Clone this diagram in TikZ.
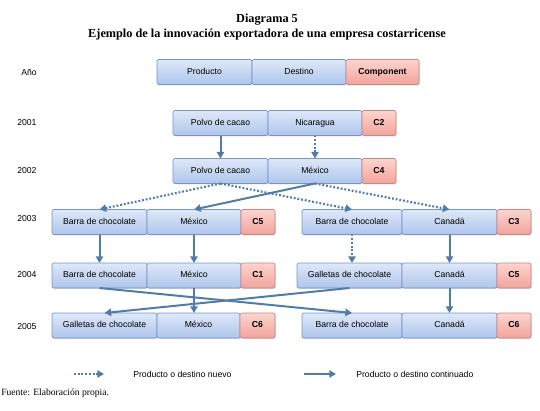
\documentclass[tikz,border=0pt]{standalone}
\usepackage{fontspec}
\setmainfont{Liberation Serif}
\setsansfont{Liberation Sans}
\usetikzlibrary{arrows.meta, shadows}

\definecolor{cellblue}{RGB}{222,232,248}
\definecolor{cellbluedark}{RGB}{174,197,236}
\definecolor{cellblueline}{RGB}{118,148,198}
\definecolor{cellred}{RGB}{252,212,206}
\definecolor{cellreddark}{RGB}{241,164,156}
\definecolor{cellredline}{RGB}{198,134,130}
\definecolor{flowblue}{RGB}{82,124,168}

\tikzset{
  cell/.style={draw=cellblueline, line width=0.5pt, rounded corners=1.5pt, top color=cellblue, bottom color=cellbluedark,
    minimum height=18.75pt, inner sep=0pt, outer sep=0pt, text height=4.8pt, text depth=1.3pt,
    font=\sffamily\fontsize{6.5}{7}\selectfont,
    drop shadow={opacity=0.3, shadow xshift=0.5pt, shadow yshift=-0.7pt}},
  compcell/.style={cell, draw=cellredline, top color=cellred, bottom color=cellreddark,
    font=\sffamily\bfseries\fontsize{6.5}{7}\selectfont},
  yearlbl/.style={anchor=west, inner sep=0pt, font=\sffamily\fontsize{6.5}{7}\selectfont},
  newflow/.style={flowblue, line width=1.6pt, dash pattern={on 1.4pt off 1.4pt}, -{Triangle[length=5pt,width=5.5pt]}},
  oldflow/.style={flowblue, line width=1.5pt, -{Triangle[length=5pt,width=5.5pt]}},
}

\begin{document}
\begin{tikzpicture}[x=0.75pt,y=0.75pt,yscale=-1,xscale=1]
\useasboundingbox (0,0) rectangle (540,411);

% Title
\node (title) at (267,20) {\bfseries\fontsize{9.2}{11}\selectfont Diagrama 5};
\node (subtitle) at (267,35) {\bfseries\fontsize{9.2}{11}\selectfont Ejemplo de la innovación exportadora de una empresa costarricense};

% Years
\node [yearlbl] (yhead) at (21,72) {Año};
\node [yearlbl] (y2001) at (17,123) {2001};
\node [yearlbl] (y2002) at (17,171) {2002};
\node [yearlbl] (y2003) at (17,219) {2003};
\node [yearlbl] (y2004) at (17,275) {2004};
\node [yearlbl] (y2005) at (17,327) {2005};

% Header
\node [cell, minimum width=71.25pt] (prodh) at (204.5,72) {Producto};
\node [cell, minimum width=70.5pt] (desth) at (299,72) {Destino};
\node [compcell, minimum width=54.75pt] (comph) at (382.5,72) {Component};

% 2001
\node [cell, minimum width=71.25pt] (pol01) at (220.5,123) {Polvo de cacao};
\node [cell, minimum width=70.5pt] (nic01) at (315,123) {Nicaragua};
\node [compcell, minimum width=25.5pt] (c01) at (379,123) {C2};

% 2002
\node [cell, minimum width=71.25pt] (pol02) at (220.5,171) {Polvo de cacao};
\node [cell, minimum width=70.5pt] (mex02) at (315,171) {México};
\node [compcell, minimum width=25.5pt] (c02) at (379,171) {C4};

% 2003
\node [cell, minimum width=71.25pt] (bar03a) at (99.5,222) {Barra de chocolate};
\node [cell, minimum width=70.5pt] (mex03a) at (194,222) {México};
\node [compcell, minimum width=25.5pt] (c03a) at (258,222) {C5};
\node [cell, minimum width=75pt] (bar03b) at (352,222) {Barra de chocolate};
\node [cell, minimum width=71.25pt] (can03) at (449.5,222) {Canadá};
\node [compcell, minimum width=25.5pt] (c03b) at (514,222) {C3};

% 2004
\node [cell, minimum width=71.25pt] (bar04a) at (99.5,275.5) {Barra de chocolate};
\node [cell, minimum width=70.5pt] (mex04) at (194,275.5) {México};
\node [compcell, minimum width=25.5pt] (c04a) at (258,275.5) {C1};
\node [cell, minimum width=78.75pt] (gal04b) at (349.5,275.5) {Galletas de chocolate};
\node [cell, minimum width=71.25pt] (can04) at (449.5,275.5) {Canadá};
\node [compcell, minimum width=25.5pt] (c04b) at (514,275.5) {C5};

% 2005
\node [cell, minimum width=78.75pt] (gal05a) at (104.5,325.5) {Galletas de chocolate};
\node [cell, minimum width=62.25pt] (mex05) at (198.5,325.5) {México};
\node [compcell, minimum width=26.25pt] (c05a) at (257.5,325.5) {C6};
\node [cell, minimum width=75pt] (bar05b) at (352,325.5) {Barra de chocolate};
\node [cell, minimum width=71.25pt] (can05) at (449.5,325.5) {Canadá};
\node [compcell, minimum width=25.5pt] (c05b) at (514,325.5) {C6};

% Flows
\draw [oldflow] (pol01) -- (pol02);
\draw [newflow] (nic01) -- (mex02);
\draw [newflow] (pol02.south) -- (bar03a.north);
\draw [newflow] (pol02.south) -- (bar03b.north);
\draw [oldflow] (mex02.south) -- (mex03a.north);
\draw [newflow] (mex02.south) -- (can03.north);
\draw [oldflow] (bar03a) -- (bar04a);
\draw [oldflow] (mex03a) -- (mex04);
\draw [newflow] (bar03b.south) -- (bar03b.south |- gal04b.north);
\draw [oldflow] (can03) -- (can04);
\draw [oldflow] (bar04a.south) -- (bar05b.north);
\draw [oldflow] (gal04b.south) -- (gal05a.north);
\draw [oldflow] (mex04.south) -- (mex04.south |- mex05.north);
\draw [oldflow] (can04) -- (can05);

% Legend
\coordinate (newA) at (74,374);
\coordinate (newB) at (104,374);
\coordinate (oldA) at (304,374);
\coordinate (oldB) at (336,374);
\draw [newflow] (newA) -- (newB);
\draw [oldflow] (oldA) -- (oldB);
\node [yearlbl] (newlbl) at (133,374) {Producto o destino nuevo};
\node [yearlbl] (oldlbl) at (356,374) {Producto o destino continuado};

% Source
\node [anchor=west, inner sep=0pt, font=\fontsize{7.2}{8}\selectfont] (source) at (1,393) {Fuente: Elaboración propia.};

\end{tikzpicture}
\end{document}
